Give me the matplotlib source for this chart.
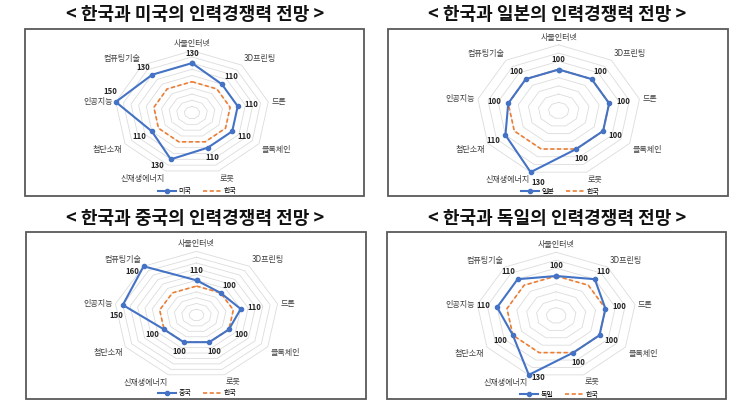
import numpy as np
import matplotlib
matplotlib.use("Agg")
import matplotlib.pyplot as plt
from matplotlib.patches import Rectangle

plt.rcParams['font.family'] = ['Noto Sans CJK KR', 'DejaVu Sans']

# data
categories = ['사물인터넷', '3D프린팅', '드론', '블록체인', '로봇',
              '신재생에너지', '첨단소재', '인공지능', '컴퓨팅기술']
korea = [100, 100, 100, 100, 100, 100, 100, 100, 100]
usa = [130, 110, 110, 110, 110, 130, 110, 150, 130]
japan = [100, 100, 100, 100, 100, 130, 110, 100, 100]
china = [110, 100, 110, 100, 100, 100, 100, 150, 160]
germany = [100, 110, 100, 100, 100, 130, 100, 110, 110]

countries = ['미국', '일본', '중국', '독일']
series = [usa, japan, china, germany]
titles = ['< 한국과 미국의 인력경쟁력 전망 >', '< 한국과 일본의 인력경쟁력 전망 >',
          '< 한국과 중국의 인력경쟁력 전망 >', '< 한국과 독일의 인력경쟁력 전망 >']
rmin = 50
rmaxes = [150, 130, 160, 130]

W, H = 745, 413
BLUE = '#4472C4'
ORANGE = '#ED7D31'

# layout in pixels: chart centre / half sizes, frame box, title, legend
centres = [(192, 112.7, 77.4, 62), (558.7, 110.5, 82, 65.6),
           (196.5, 315, 82.3, 63.6), (556.2, 315.5, 80, 63.2)]
frames = [(25, 29, 364, 196), (388, 29, 728, 196),
          (26, 232, 366, 399), (387, 232, 726, 399)]
title_pos = [(195, 14), (557, 14), (195, 218.5), (557, 218.5)]
legend_pos = [(197, 191), (560, 191.5), (197, 393.5), (559, 394.5)]
label_fix = {(0, 5): (-14, -6), (0, 7): (-5, 10), (1, 5): (8, -10),
             (3, 5): (9, -3), (2, 8): (-11, -5), (2, 7): (-7, -11)}

fig = plt.figure(figsize=(W / 100, H / 100), dpi=100)
fig.patch.set_facecolor('white')

n = len(categories)
theta = np.arange(n) * 2 * np.pi / n
theta_c = np.append(theta, theta[0])

for i in range(4):
    x0, y0, x1, y1 = frames[i]
    fig.add_artist(Rectangle((x0 / W, 1 - y1 / H), (x1 - x0) / W, (y1 - y0) / H,
                             transform=fig.transFigure, fill=False,
                             edgecolor='#595959', linewidth=1.3))
    tx, ty = title_pos[i]
    fig.text(tx / W, 1 - ty / H, titles[i], ha='center', va='center',
             fontsize=13, fontweight='bold', color='#111111')

    cx, cy, hw, hh = centres[i]
    ax = fig.add_axes([(cx - hw) / W, 1 - (cy + hh) / H, 2 * hw / W, 2 * hh / H],
                      projection='polar')
    ax.set_aspect('auto')
    ax.set_theta_zero_location('N')
    ax.set_theta_direction(-1)
    rmax = rmaxes[i]
    ax.set_ylim(rmin, rmax)
    ax.axis('off')

    for lev in range(rmin + 10, rmax + 1, 10):
        ax.plot(theta_c, [lev] * (n + 1), color='#dcdcdc', lw=0.6, zorder=0,
                clip_on=False)

    vals = series[i]
    h1, = ax.plot(theta_c, vals + vals[:1], color=BLUE, lw=1.5, marker='o',
                  markersize=3, clip_on=False, zorder=3, label=countries[i])
    h2, = ax.plot(theta_c, korea + korea[:1], color=ORANGE, lw=1.2,
                  linestyle=(0, (2.5, 1.5)), clip_on=False, zorder=2, label='한국')

    for k in range(n):
        s, c = np.sin(theta[k]), np.cos(theta[k])
        # category label just outside the outer ring
        ha = 'left' if s > 0.1 else ('right' if s < -0.1 else 'center')
        va = 'bottom' if c > 0.3 else ('top' if c < -0.3 else 'center')
        ax.annotate(categories[k], (theta[k], rmax), xytext=(3 * s, 3 * c),
                    textcoords='offset pixels', ha=ha, va=va, fontsize=5.8,
                    color='#404040', annotation_clip=False)
        # value label
        off = label_fix.get((i, k), (14 * s, 10 * c))
        ax.annotate(str(vals[k]), (theta[k], vals[k]), xytext=off,
                    textcoords='offset pixels', ha='center', va='center',
                    fontsize=5.6, fontweight='bold', color='#262626',
                    annotation_clip=False)

    lx, ly = legend_pos[i]
    fig.legend(handles=[h1, h2], loc='center', bbox_to_anchor=(lx / W, 1 - ly / H),
               ncol=2, frameon=False, fontsize=5, handlelength=2.6,
               columnspacing=1.6, handletextpad=0.4, borderpad=0)

fig.savefig('out.png', dpi=100, facecolor='white')
